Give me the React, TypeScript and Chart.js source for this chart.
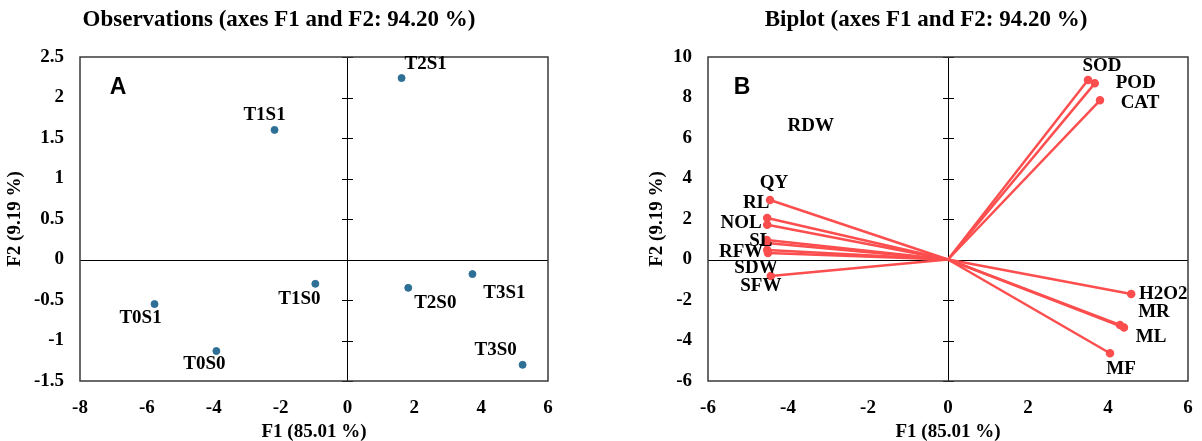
import React, { useEffect, useRef } from "react";
import { Chart, registerables } from "chart.js";

Chart.register(...registerables);

// ---------- Data: Observations (A) ----------
const obsNames = ["T1S1", "T2S1", "T1S0", "T0S1", "T0S0", "T2S0", "T3S1", "T3S0"];
const obsF1 = [-2.18, 1.62, -0.96, -5.77, -3.92, 1.82, 3.74, 5.24];
const obsF2 = [1.6, 2.24, -0.3, -0.55, -1.13, -0.35, -0.18, -1.3];
// label offsets in pixels (dx, dy) from the point
const obsLabelDx = [-10, 24, -16, -14, -12, 27, 32, -27];
const obsLabelDy = [-15, -14, 15, 14, 13, 15, 19, -15];

// ---------- Data: Biplot (B) ----------
const varNames = ["SOD", "POD", "CAT", "QY", "RL", "NOL", "SL", "RDW", "RFW", "SDW", "SFW", "H2O2", "MR", "ML", "MF"];
const varF1 = [3.5, 3.67, 3.8, -4.45, -4.52, -4.52, -4.53, -4.53, -4.52, -4.5, -4.43, 4.58, 4.3, 4.4, 4.05];
const varF2 = [8.86, 8.7, 7.86, 2.94, 2.05, 1.72, 0.96, 0.81, 0.47, 0.32, -0.81, -1.7, -3.23, -3.36, -4.63];
const varLabelDx = [14, 41, 40, 4, -11, -26, -6, 44, -26, -12, -10, 32, 34, 27, 11];
const varLabelDy = [-14, 0, 3, -17, -15, -2, 1, -117, 2, 15, 10, 0, -13, 10, 16];

// ---------- Axis settings ----------
const axisTitleX = "F1 (85.01 %)";
const axisTitleY = "F2 (9.19 %)";
const titleA = "Observations (axes F1 and F2: 94.20 %)";
const titleB = "Biplot (axes F1 and F2: 94.20 %)";
const rangeA = { xMin: -8, xMax: 6, xStep: 2, yMin: -1.5, yMax: 2.5, yStep: 0.5 };
const rangeB = { xMin: -6, xMax: 6, xStep: 2, yMin: -6, yMax: 10, yStep: 2 };

const SERIF = "'Liberation Serif', 'Times New Roman', serif";
const SANS = "'Liberation Sans', Arial, sans-serif";
const BLUE = "#2e6f96";
const RED = "#fc4e4e";

type Opts = {
  title: string;
  titleX: number;
  panel: string;
  panelX: number;
  panelY: number;
  yTitleX: number;
  names: string[];
  xs: number[];
  ys: number[];
  dx: number[];
  dy: number[];
};

function makeOverlay(o: Opts) {
  return {
    id: "overlay_" + o.panel,
    beforeDatasetsDraw(chart: any) {
      const { ctx, chartArea: a, scales } = chart;
      const x0 = scales.x.getPixelForValue(0);
      const y0 = scales.y.getPixelForValue(0);
      ctx.save();
      ctx.strokeStyle = "#000";
      ctx.lineWidth = 1;
      ctx.beginPath();
      ctx.moveTo(a.left, Math.round(y0) + 0.5);
      ctx.lineTo(a.right, Math.round(y0) + 0.5);
      ctx.moveTo(Math.round(x0) + 0.5, a.top);
      ctx.lineTo(Math.round(x0) + 0.5, a.bottom);
      scales.y.ticks.forEach((t: any) => {
        const py = Math.round(scales.y.getPixelForValue(t.value)) + 0.5;
        ctx.moveTo(Math.round(x0) - 5, py);
        ctx.lineTo(Math.round(x0) + 6, py);
      });
      ctx.stroke();
      ctx.restore();
    },
    afterDraw(chart: any) {
      const { ctx, chartArea: a, scales } = chart;
      ctx.save();
      ctx.strokeStyle = "#3a3a3a";
      ctx.lineWidth = 1.5;
      ctx.strokeRect(a.left, a.top, a.right - a.left, a.bottom - a.top);
      ctx.fillStyle = "#000";
      ctx.textAlign = "center";
      ctx.textBaseline = "middle";
      ctx.font = "bold 23px " + SERIF;
      ctx.fillText(o.title, o.titleX, 20);
      ctx.font = "bold 19px " + SERIF;
      ctx.fillText(axisTitleX, (a.left + a.right) / 2, 432);
      ctx.save();
      ctx.translate(o.yTitleX, (a.top + a.bottom) / 2);
      ctx.rotate(-Math.PI / 2);
      ctx.fillText(axisTitleY, 0, 0);
      ctx.restore();
      ctx.font = "bold 23px " + SANS;
      ctx.fillText(o.panel, o.panelX, o.panelY);
      ctx.font = "bold 19px " + SERIF;
      o.names.forEach((n, i) => {
        const px = scales.x.getPixelForValue(o.xs[i]);
        const py = scales.y.getPixelForValue(o.ys[i]);
        ctx.fillText(n, px + o.dx[i], py + o.dy[i]);
      });
      ctx.restore();
    },
  };
}

function scaleOpts(r: any, yWidth: number) {
  const tickFont = { family: SERIF, size: 19, weight: "bold" as const };
  return {
    x: {
      type: "linear" as const,
      min: r.xMin,
      max: r.xMax,
      grid: { display: false, drawTicks: true, tickLength: 16 },
      border: { display: false },
      ticks: { stepSize: r.xStep, color: "#000", font: tickFont, padding: 0, maxRotation: 0, callback: (v: any) => String(v) },
      afterFit: (s: any) => { s.height = 60; },
    },
    y: {
      type: "linear" as const,
      min: r.yMin,
      max: r.yMax,
      grid: { display: false, drawTicks: false },
      border: { display: false },
      ticks: { stepSize: r.yStep, color: "#000", font: tickFont, padding: 16, callback: (v: any) => String(v) },
      afterFit: (s: any) => { s.width = yWidth; },
    },
  };
}

export default function App() {
  const refA = useRef<HTMLCanvasElement>(null);
  const refB = useRef<HTMLCanvasElement>(null);

  useEffect(() => {
    const chartA = new Chart(refA.current as HTMLCanvasElement, {
      type: "scatter",
      data: {
        datasets: [
          {
            data: obsF1.map((x, i) => ({ x, y: obsF2[i] })),
            backgroundColor: BLUE,
            borderColor: BLUE,
            pointRadius: 3.5,
            pointHoverRadius: 3.5,
          },
        ],
      },
      options: {
        responsive: false,
        animation: false,
        layout: { padding: { top: 57, right: 52, bottom: 0, left: 0 } },
        plugins: { legend: { display: false }, tooltip: { enabled: false } },
        scales: scaleOpts(rangeA, 80),
      },
      plugins: [
        makeOverlay({
          title: titleA, titleX: 279, panel: "A", panelX: 118, panelY: 88, yTitleX: 15,
          names: obsNames, xs: obsF1, ys: obsF2, dx: obsLabelDx, dy: obsLabelDy,
        }),
      ],
    });

    const chartB = new Chart(refB.current as HTMLCanvasElement, {
      type: "scatter",
      data: {
        datasets: varNames.map((_, i) => ({
          data: [
            { x: 0, y: 0 },
            { x: varF1[i], y: varF2[i] },
          ],
          showLine: true,
          borderColor: RED,
          backgroundColor: RED,
          borderWidth: 2.5,
          pointRadius: [0, 3],
          pointHoverRadius: [0, 3],
        })),
      },
      options: {
        responsive: false,
        animation: false,
        layout: { padding: { top: 57, right: 14, bottom: 0, left: 0 } },
        plugins: { legend: { display: false }, tooltip: { enabled: false } },
        scales: scaleOpts(rangeB, 108),
      },
      plugins: [
        makeOverlay({
          title: titleB, titleX: 326, panel: "B", panelX: 142, panelY: 88, yTitleX: 57,
          names: varNames, xs: varF1, ys: varF2, dx: varLabelDx, dy: varLabelDy,
        }),
      ],
    });

    return () => {
      chartA.destroy();
      chartB.destroy();
    };
  }, []);

  return (
    <div style={{ position: "absolute", left: 0, top: 0, width: 1202, height: 441, background: "#fff" }}>
      <canvas ref={refA} width={600} height={441} style={{ position: "absolute", left: 0, top: 0 }} />
      <canvas ref={refB} width={602} height={441} style={{ position: "absolute", left: 600, top: 0 }} />
    </div>
  );
}
